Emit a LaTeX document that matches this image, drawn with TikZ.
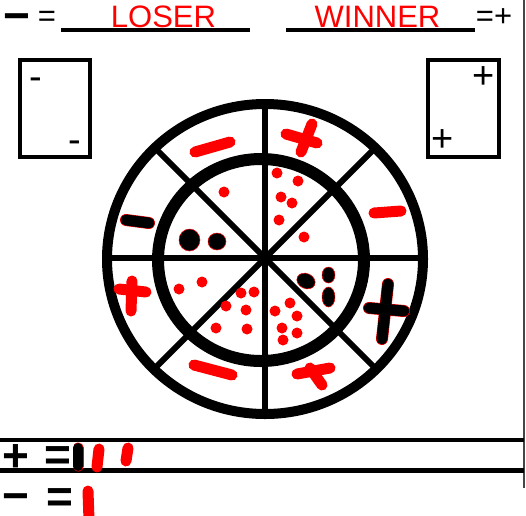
\documentclass[tikz,border=0pt]{standalone}
\usepackage{fontspec}
\setmainfont{Liberation Sans}
\usepackage{tikz}
\usetikzlibrary{positioning}
\definecolor{MarkRed}{RGB}{255,0,0}
\definecolor{EdgeGray}{RGB}{70,70,70}

\begin{document}
\begin{tikzpicture}[x=1pt,y=-1pt,
  redmark/.style={MarkRed, line width=11pt, line cap=round},
  blackmark/.style={black, line width=11pt, line cap=round},
  ring/.style={black, line width=10pt},
  spoke/.style={black, line width=6pt},
  frame/.style={black, line width=4pt},
  rule/.style={black, line width=4.5pt},
  blob/.style={fill=black, draw=MarkRed, line width=0.5pt},
  boldsign/.style={inner sep=0pt, anchor=base, font=\fontsize{46}{46}\selectfont\bfseries},
  thinsign/.style={inner sep=0pt, anchor=base, font=\fontsize{31}{31}\selectfont},
  boxsign/.style={inner sep=0pt, anchor=base, font=\fontsize{38}{38}\selectfont},
  title/.style={inner sep=0pt, anchor=base, text=MarkRed, font=\fontsize{31}{31}\selectfont}]
  \path[use as bounding box] (0,0) rectangle (526,515);
  \fill[white] (0,0) rectangle (526,515);
  \draw[EdgeGray, line width=1.2pt] (524,0) -- (524,488);

  % header
  \node[boldsign] (minusHead) at (17,31) {−};
  \node[thinsign] (eqHead) at (47,26) {=};
  \draw[rule] (61,30) -- (250,30);
  \node[title] (loser) at (163.5,27) {LOSER};
  \draw[rule] (286,30) -- (475,30);
  \node[title] (winner) at (377.5,27) {WINNER};
  \node[thinsign] (eqPlusHead) at (494,26) {=+};

  % side boxes
  \draw[frame] (20,60) rectangle (90,157);
  \node[boxsign] (minusA) at (36,89) {-};
  \node[boxsign] (minusB) at (75,152) {-};
  \draw[frame] (428,60) rectangle (499,157);
  \node[boxsign] (plusA) at (484,88) {+};
  \node[boxsign] (plusB) at (443,151) {+};

  % wheel
  \coordinate (hub) at (265,258);
  \draw[ring] (265,259) ellipse [x radius=158, y radius=155];
  \draw[ring, line width=12pt] (261,260) ellipse [x radius=103, y radius=101];
  \foreach \a in {0,45,...,315}{
    \draw[spoke] (hub) -- ++(\a:155);
  }

  % outer ring marks
  \draw[redmark] (195,152) -- (230,142);
  \draw[redmark] (286,134) -- (317,143);
  \draw[redmark] (312,124) -- (301,152);
  \draw[redmark] (374,213) -- (401,211);
  \draw[MarkRed, line width=12pt, line cap=round] (388,284) -- (382,339);
  \draw[MarkRed, line width=12pt, line cap=round] (369,308) -- (404,311);
  \draw[blackmark] (388,284) -- (382,339);
  \draw[blackmark] (369,308) -- (404,311);
  \draw[redmark] (297,374) -- (330,368);
  \draw[redmark] (310,368) -- (322,385);
  \draw[redmark] (194,365) -- (232,375);
  \draw[redmark] (119,289) -- (146,292);
  \draw[redmark] (132,281) -- (131,311);
  \draw[MarkRed, line width=12pt, line cap=round] (126,220) -- (149,223);
  \draw[blackmark] (126,220) -- (149,223);

  % inner ring dots
  \foreach \x/\y in {224/192, 277/173, 298/181, 281/197, 292/203, 279/220,
      304/237, 290/303, 275/311, 297/316, 282/328, 297/333, 283/340,
      241/293, 254/292, 226/306, 246/310, 216/328, 247/329, 179/289, 202/282}{
    \fill[MarkRed] (\x,\y) circle (5.5);
  }
  \filldraw[blob] (189.5,240) ellipse [x radius=10.5, y radius=11];
  \filldraw[blob] (217,241.5) ellipse [x radius=9, y radius=8.5];
  \filldraw[blob, rotate around={-25:(306,281)}] (306,281) ellipse [x radius=9.5, y radius=7.5];
  \filldraw[blob] (328.5,275) ellipse [x radius=6.5, y radius=8];
  \filldraw[blob] (328.5,297) ellipse [x radius=6.5, y radius=10];

  % tally
  \draw[rule] (0,440) -- (524,440);
  \draw[rule] (0,470.5) -- (524,470.5);
  \node[boldsign] (plusTally) at (16,471) {+};
  \node[boldsign] (eqTally) at (58,470) {=};
  \draw[MarkRed, line width=11pt, line cap=round] (78,448) -- (78,466);
  \draw[black, line width=10pt, line cap=round] (78,448) -- (78,466);
  \draw[redmark] (99,449) -- (97,467);
  \draw[redmark] (128,448) -- (126,461);
  \node[boldsign] (minusTally) at (16,511) {−};
  \node[boldsign] (eqTallyB) at (60,512) {=};
  \draw[redmark] (88,491) -- (89,520);
\end{tikzpicture}
\end{document}
